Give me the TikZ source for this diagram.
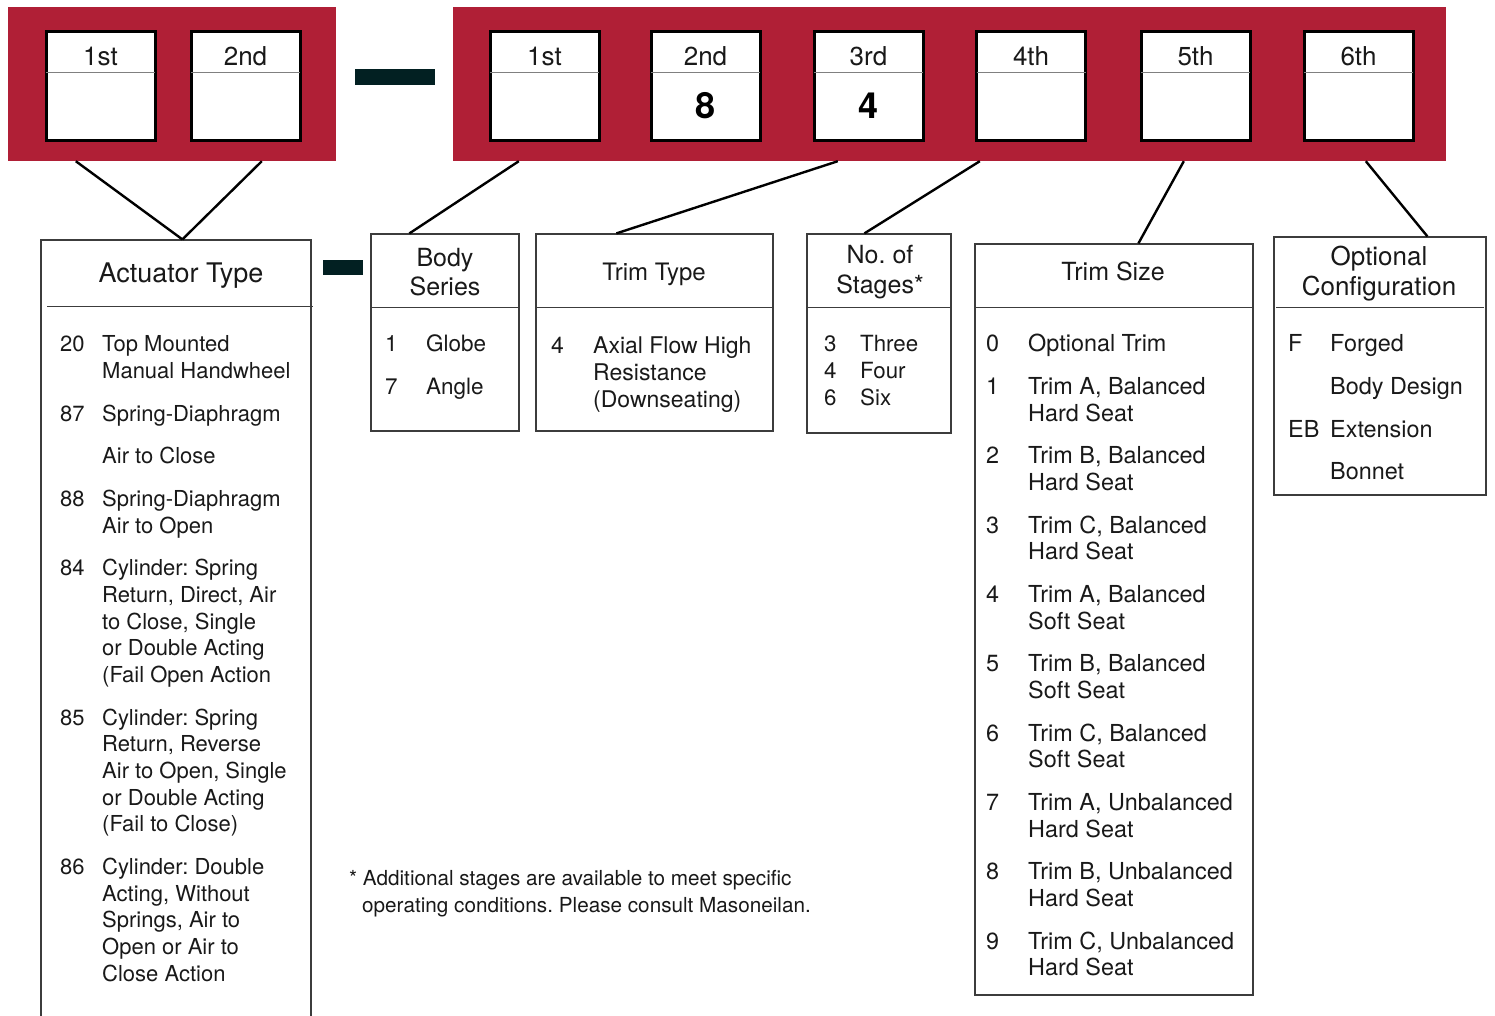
\documentclass[tikz,border=0pt]{standalone}
\usepackage{fontspec}
\setmainfont{TeX Gyre Heros}
\usetikzlibrary{calc}
\definecolor{panelred}{RGB}{176,31,54}
\definecolor{dashcol}{RGB}{2,32,34}
\definecolor{boxline}{RGB}{60,60,60}
\frenchspacing
\begin{document}
\begin{tikzpicture}[x=1pt,y=-1pt,
  panel/.style={fill=panelred,draw=none,rectangle,inner sep=0,minimum width=#1,minimum height=154},
  digitbox/.style={draw=black,line width=3pt,fill=white,rectangle,inner sep=0,minimum width=109,minimum height=109},
  toplbl/.style={anchor=base,inner sep=0,font=\fontsize{26}{30}\selectfont,text=black!90},
  bigdig/.style={anchor=base,inner sep=0,font=\fontsize{36}{40}\selectfont\bfseries},
  infobox/.style={draw=boxline,line width=1.2pt,rectangle,inner sep=0},
  divider/.style={draw=boxline,line width=1.2pt},
  thindiv/.style={draw=gray,line width=1pt},
  conn/.style={draw=black,line width=2.4pt},
  dashbar/.style={fill=dashcol,draw=none,rectangle,inner sep=0},
  hdr/.style={anchor=base,inner sep=0,font=\fontsize{#1}{30}\selectfont,text=black!90},
  hdr/.default=25,
  txt/.style={anchor=base west,inner sep=0,font=\fontsize{#1}{27}\selectfont,text=black!90},
  txt/.default=22,
  foot/.style={anchor=base west,inner sep=0,font=\fontsize{20.7}{27}\selectfont,text=black!90}
]
\useasboundingbox (0,0) rectangle (1495,1015);

% red panels
\node[panel=328] (redL) at (172,84) {};
\node[panel=993] (redR) at (949.5,84) {};

% digit boxes
\foreach \nm/\cx/\lbl in {a1/100.5/1st, a2/245.5/2nd, b1/544.5/1st, b2/705.5/2nd, b3/868.5/3rd, b4/1031/4th, b5/1195.5/5th, b6/1358.5/6th}{
  \node[digitbox] (\nm) at (\cx,85.5) {};
  \draw[thindiv] ($(\nm.west)+(1.5,-13.5)$) -- ($(\nm.east)+(-1.5,-13.5)$);
  \node[toplbl] (\nm-l) at (\cx,65) {\lbl};
}
\node[bigdig] (b2-v) at (705.5,118) {8};
\node[bigdig] (b3-v) at (868.5,118) {4};

% dashes
\node[dashbar,minimum width=80,minimum height=16] (dash1) at (395,77) {};
\node[dashbar,minimum width=40,minimum height=15] (dash2) at (343,267.5) {};

% info boxes
\node[infobox,minimum width=270,minimum height=790] (act) at (176,635) {};
\node[infobox,minimum width=148,minimum height=197] (body) at (445,332.5) {};
\node[infobox,minimum width=237,minimum height=197] (ttype) at (654.5,332.5) {};
\node[infobox,minimum width=144,minimum height=199] (stages) at (879,333.5) {};
\node[infobox,minimum width=278,minimum height=751] (tsize) at (1114,619.5) {};
\node[infobox,minimum width=212,minimum height=258] (opt) at (1380,366) {};

% header dividers
\draw[divider] ($(act.north west)+(7,67)$) -- ($(act.north east)+(1,67)$);
\draw[divider] ($(body.north west)+(0,74)$) -- ($(body.north east)+(0,74)$);
\draw[divider] ($(ttype.north west)+(0,74)$) -- ($(ttype.north east)+(0,74)$);
\draw[divider] ($(stages.north west)+(0,74)$) -- ($(stages.north east)+(0,74)$);
\draw[divider] ($(tsize.north west)+(0,64)$) -- ($(tsize.north east)+(0,64)$);
\draw[divider] ($(opt.north west)+(3,71)$) -- ($(opt.north east)+(-3,71)$);

% connectors
\draw[conn] ($(redL.south west)+(68,0)$) -- ($(act.north west)+(142,0)$);
\draw[conn] ($(redL.south west)+(254,0)$) -- ($(act.north west)+(142,0)$);
\draw[conn] ($(redR.south west)+(66,0)$) -- ($(body.north west)+(39,0)$);
\draw[conn] ($(redR.south west)+(385,0)$) -- ($(ttype.north west)+(81,0)$);
\draw[conn] ($(redR.south west)+(527,0)$) -- ($(stages.north west)+(58,0)$);
\draw[conn] ($(redR.south west)+(731,0)$) -- ($(tsize.north west)+(164,0)$);
\draw[conn] ($(redR.south west)+(913,0)$) -- ($(opt.north west)+(154,0)$);

% headers
\node[hdr=27] (h-act) at (181,282) {Actuator Type};
\node[hdr] (h-body1) at (445,266) {Body};
\node[hdr] (h-body2) at (445,295) {Series};
\node[hdr=24] (h-tt) at (654,280) {Trim Type};
\node[hdr] (h-st1) at (880,263) {No. of};
\node[hdr] (h-st2) at (880,293) {Stages*};
\node[hdr] (h-ts) at (1113,280) {Trim Size};
\node[hdr=26] (h-op1) at (1379,265) {Optional};
\node[hdr=26] (h-op2) at (1379,295) {Configuration};

% actuator list
\foreach \y/\n/\t [count=\i] in {
 351.5/20/{Top Mounted}, 378.5//{Manual Handwheel},
 421.5/87/{Spring-Diaphragm}, 463.5//{Air to Close},
 506.5/88/{Spring-Diaphragm}, 533.5//{Air to Open},
 575.5/84/{Cylinder: Spring}, 602.5//{Return, Direct, Air}, 629.5//{to Close, Single}, 655.5//{or Double Acting}, 682.5//{(Fail Open Action},
 725.5/85/{Cylinder: Spring}, 751.5//{Return, Reverse}, 778.5//{Air to Open, Single}, 805.5//{or Double Acting}, 831.5//{(Fail to Close)},
 874.5/86/{Cylinder: Double}, 901.5//{Acting, Without}, 927.5//{Springs, Air to}, 954.5//{Open or Air to}, 981.5//{Close Action}}{
  \node[txt] (act-n\i) at (60,\y) {\n};
  \node[txt] (act-t\i) at (102,\y) {\t};
}

% body series
\node[txt=22.5] (bs-n1) at (385,351.5) {1};
\node[txt=22.5] (bs-t1) at (426,351.5) {Globe};
\node[txt=22.5] (bs-n2) at (385,394.5) {7};
\node[txt=22.5] (bs-t2) at (426,394.5) {Angle};

% trim type
\node[txt=23] (tt-n1) at (551,353.5) {4};
\node[txt=23] (tt-t1) at (593,353.5) {Axial Flow High};
\node[txt=23] (tt-t2) at (593,380.5) {Resistance};
\node[txt=23] (tt-t3) at (593,407.5) {(Downseating)};

% stages
\foreach \y/\n/\t [count=\i] in {351.5/3/Three, 378.5/4/Four, 405.5/6/Six}{
  \node[txt=22.3] (st-n\i) at (824,\y) {\n};
  \node[txt=22.3] (st-t\i) at (860,\y) {\t};
}

% trim size
\foreach \y/\n/\t [count=\i] in {
 351.5/0/{Optional Trim},
 394.5/1/{Trim A, Balanced}, 421.5//{Hard Seat},
 463.5/2/{Trim B, Balanced}, 490.5//{Hard Seat},
 533.5/3/{Trim C, Balanced}, 559.5//{Hard Seat},
 602.5/4/{Trim A, Balanced}, 629.5//{Soft Seat},
 671.5/5/{Trim B, Balanced}, 698.5//{Soft Seat},
 741.5/6/{Trim C, Balanced}, 767.5//{Soft Seat},
 810.5/7/{Trim A, Unbalanced}, 837.5//{Hard Seat},
 879.5/8/{Trim B, Unbalanced}, 906.5//{Hard Seat},
 949.5/9/{Trim C, Unbalanced}, 975.5//{Hard Seat}}{
  \node[txt=23.4] (ts-n\i) at (986,\y) {\n};
  \node[txt=23.4] (ts-t\i) at (1028,\y) {\t};
}

% optional configuration
\foreach \y/\n/\t [count=\i] in {351.5/F/Forged, 394.5//{Body Design}, 437.5/EB/Extension, 479.5//Bonnet}{
  \node[txt=23.4] (oc-n\i) at (1288,\y) {\n};
  \node[txt=23.4] (oc-t\i) at (1330,\y) {\t};
}

% footnote
\node[foot] (fn1) at (349,885.5) {* Additional stages are available to meet specific};
\node[foot] (fn2) at (362,912.5) {operating conditions. Please consult Masoneilan.};
\end{tikzpicture}
\end{document}
